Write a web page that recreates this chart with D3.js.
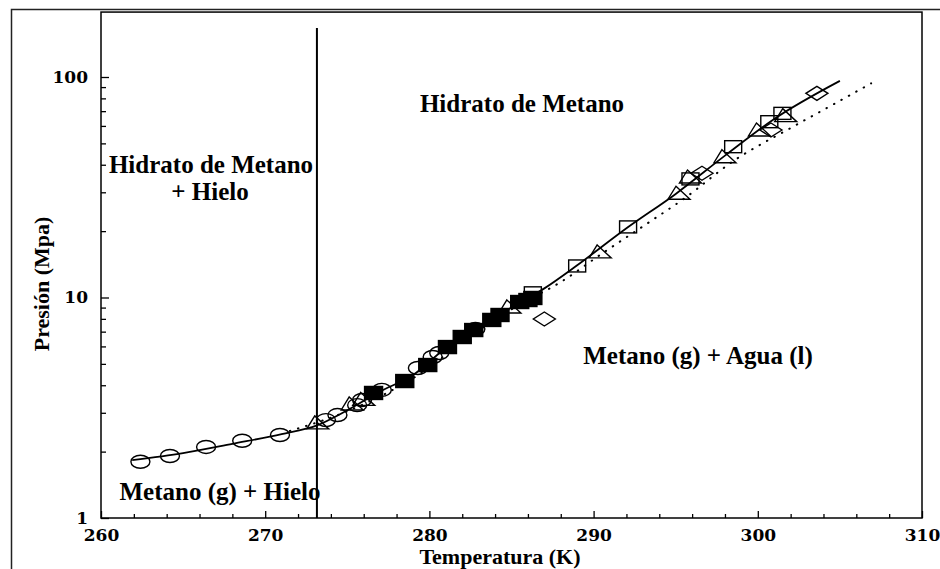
<!DOCTYPE html>
<html>
<head>
<meta charset="utf-8">
<script src="https://cdn.jsdelivr.net/npm/d3@7"></script>
<style>
  body { margin: 0; background: #fff; }
  svg { display: block; }
  .tick text { font-family: "DejaVu Serif", serif; font-weight: bold; font-size: 17px; }
  .lbl { font-family: "Liberation Serif", "Times New Roman", serif; font-weight: bold; fill: #000; }
</style>
</head>
<body>
<svg id="chart" width="940" height="569"></svg>
<script>
// tick labels
const xTicks = [260, 270, 280, 290, 300, 310];
const yTicks = [1, 10, 100];

// equilibrium curve (T in K, P in MPa)
const solidCurve = [[261.9,1.83],[265,1.97],[268,2.17],[271,2.40],[273.15,2.63],[275,3.08],[277,3.75],
  [279,4.45],[281,5.9],[283,7.35],[285,9.0],[287,11.0],[289,14.0],[292,20.6],[295,29.5],[298,44],
  [301,64.5],[305,96]];
const dottedCurve = [[271.5,2.48],[275,3.05],[279,4.3],[283,7.1],[285.5,9.3],[288,11.75],[290.5,15.8],
  [293.6,22.5],[295.4,27.7],[298.6,42],[302,58.7],[304.9,77.3],[306.9,93.6]];

// experimental points
const circles = [[262.4,1.80],[264.2,1.91],[266.4,2.10],[268.6,2.24],[270.9,2.38],
  [273.7,2.78],[274.4,2.93],[275.6,3.25],[275.9,3.43],[277.1,3.81],[279.3,4.79],[280.2,5.37],[280.6,5.60],[282.8,7.2]];
const triangles = [[273.2,2.70],[275.3,3.29],[276.0,3.45],[284.9,9.06],[290.4,16.1],[295.2,29.7],
  [295.9,35.2],[298.0,43.5],[300.1,57.5],[301.7,66.8]];
const filledSquares = [[276.6,3.69],[278.5,4.18],[279.9,4.94],[281.1,5.96],[282.0,6.62],[282.7,7.12],
  [283.8,7.91],[284.3,8.33],[285.5,9.54],[286.0,9.74],[286.3,9.95]];
const openSquares = [[286.3,10.5],[289.0,13.9],[292.1,20.9],[295.9,34.5],[298.5,48.3],[300.7,62.7],[301.5,68.4]];
const diamonds = [[287.0,7.99],[296.6,36.6],[300.8,57.5],[303.6,84.3]];

const iceLineT = 273.15;
const yTop = 197;

const svg = d3.select("#chart");
const x = d3.scaleLinear().domain([260, 310]).range([101, 922]);
const y = d3.scaleLog().domain([1, 100]).range([518, 77]);

// outer frame of the screenshot
svg.append("path").attr("d", "M11.5,569V9.5H940")
  .attr("fill", "none").attr("stroke", "#222").attr("stroke-width", 1.5);

// plot box
svg.append("rect")
  .attr("x", x(260)).attr("y", y(yTop))
  .attr("width", x(310) - x(260)).attr("height", y(1) - y(yTop))
  .attr("fill", "none").attr("stroke", "#000").attr("stroke-width", 1.5);

// x axis
const xMinor = d3.range(262, 310, 2).filter(d => d % 10 !== 0);
svg.append("g").attr("transform", `translate(0,${y(1)})`)
  .call(d3.axisBottom(x).tickValues(xTicks).tickSize(-7).tickPadding(11).tickFormat(d3.format("d")))
  .call(g => g.select(".domain").remove());
svg.append("g").attr("transform", `translate(0,${y(1)})`)
  .call(d3.axisBottom(x).tickValues(xMinor).tickSize(-4).tickFormat(""))
  .call(g => g.select(".domain").remove());

// y axis
const yMinor = [2,3,4,5,6,7,8,9,20,30,40,50,60,70,80,90];
svg.append("g").attr("transform", `translate(${x(260)},0)`)
  .call(d3.axisLeft(y).tickValues(yTicks).tickSize(-8).tickPadding(13).tickFormat(d3.format("d")))
  .call(g => g.select(".domain").remove());
svg.append("g").attr("transform", `translate(${x(260)},0)`)
  .call(d3.axisLeft(y).tickValues(yMinor).tickSize(-5).tickFormat(""))
  .call(g => g.select(".domain").remove());

svg.selectAll(".tick line").attr("stroke", "#000").attr("stroke-width", 1.3);
svg.selectAll(".tick text").attr("fill", "#000");

// axis titles
svg.append("text").attr("class", "lbl")
  .attr("transform", "translate(49,284) rotate(-90)")
  .attr("text-anchor", "middle").style("font-size", "22px").text("Presión (Mpa)");
svg.append("text").attr("class", "lbl")
  .attr("x", 500).attr("y", 564)
  .attr("text-anchor", "middle").style("font-size", "22px").text("Temperatura (K)");

// ice line
svg.append("line")
  .attr("x1", x(iceLineT)).attr("x2", x(iceLineT))
  .attr("y1", y(1)).attr("y2", y(167))
  .attr("stroke", "#000").attr("stroke-width", 2);

const line = d3.line().x(d => x(d[0])).y(d => y(d[1])).curve(d3.curveMonotoneX);

svg.append("path").datum(dottedCurve).attr("d", line)
  .attr("fill", "none").attr("stroke", "#000").attr("stroke-width", 2)
  .attr("stroke-linecap", "round").attr("stroke-dasharray", "0.5,8");

svg.append("path").datum(solidCurve).attr("d", line)
  .attr("fill", "none").attr("stroke", "#000").attr("stroke-width", 1.8);

// markers
const mk = svg.append("g").attr("stroke", "#000").attr("stroke-width", 1.4);

mk.selectAll(".circ").data(circles).join("ellipse")
  .attr("cx", d => x(d[0])).attr("cy", d => y(d[1]))
  .attr("rx", 9.5).attr("ry", 6.5).attr("fill", "none");

mk.selectAll(".tri").data(triangles).join("path")
  .attr("transform", d => `translate(${x(d[0])},${y(d[1])})`)
  .attr("d", "M-3,-7L11,6H-11Z").attr("fill", "none");

mk.selectAll(".fsq").data(filledSquares).join("rect")
  .attr("x", d => x(d[0]) - 9).attr("y", d => y(d[1]) - 6.5)
  .attr("width", 18).attr("height", 13).attr("fill", "#000");

mk.selectAll(".osq").data(openSquares).join("rect")
  .attr("x", d => x(d[0]) - 8.5).attr("y", d => y(d[1]) - 6)
  .attr("width", 17).attr("height", 12).attr("fill", "none");

mk.selectAll(".dia").data(diamonds).join("path")
  .attr("transform", d => `translate(${x(d[0])},${y(d[1])})`)
  .attr("d", "M0,-7L11,0L0,7L-11,0Z").attr("fill", "none");

// region labels
const regions = [
  {t: "Hidrato de Metano", x: 522, y: 112},
  {t: "Hidrato de Metano", x: 211, y: 173},
  {t: "+ Hielo", x: 210, y: 200},
  {t: "Metano (g) + Agua (l)", x: 698, y: 364},
  {t: "Metano (g) + Hielo", x: 220, y: 500}
];
svg.selectAll(".reg").data(regions).join("text")
  .attr("class", "lbl").attr("x", d => d.x).attr("y", d => d.y)
  .attr("text-anchor", "middle").style("font-size", "25px").text(d => d.t);
</script>
</body>
</html>
